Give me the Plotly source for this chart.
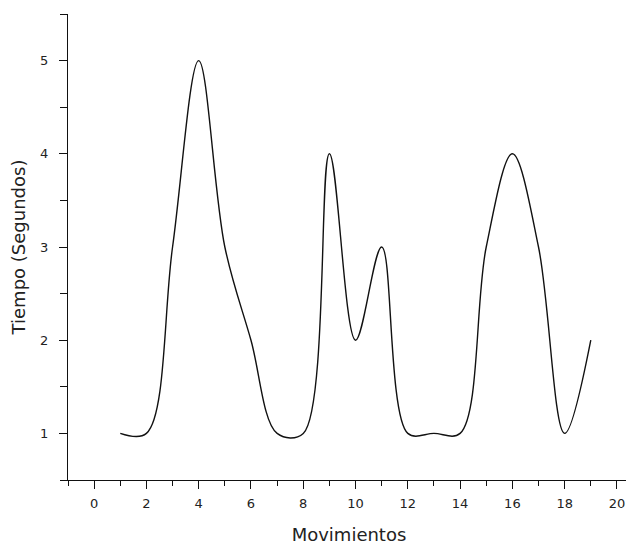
import plotly.graph_objects as go

movimientos = list(range(1, 20))
tiempo = [1, 1, 3, 5, 3, 2, 1, 1, 4, 2, 3, 1, 1, 1, 3, 4, 3, 1, 2]

x_tickvals = list(range(0, 21, 2))
y_tickvals = [1, 2, 3, 4, 5]

fig = go.Figure()
fig.add_trace(go.Scatter(
    x=movimientos, y=tiempo, mode="lines",
    line=dict(color="#111111", width=1.4, shape="spline", smoothing=1.0),
    showlegend=False, hoverinfo="skip"))

font_family = "DejaVu Sans, Liberation Sans, Arial, sans-serif"
fig.update_layout(
    width=634, height=546,
    margin=dict(l=60, r=12, t=6, b=74, autoexpand=False),
    paper_bgcolor="white", plot_bgcolor="white",
    font=dict(family=font_family, color="#000000"),
)
fig.update_xaxes(
    range=[-1, 20.5], tickmode="array", tickvals=x_tickvals,
    ticks="outside", ticklen=8, tickwidth=1.3, tickcolor="#111",
    showline=True, linecolor="#111", linewidth=1.3,
    showgrid=False, zeroline=False, automargin=False,
    minor=dict(tickmode="linear", tick0=0, dtick=1, ticks="outside", ticklen=5,
               tickwidth=1.3, tickcolor="#111", showgrid=False),
    tickfont=dict(size=13, color="#222222"), ticklabelstandoff=3,
    title=dict(text="Movimientos", font=dict(size=18, color="#222222"), standoff=18),
)
fig.update_yaxes(
    range=[0.5, 5.5], tickmode="array", tickvals=y_tickvals,
    ticks="outside", ticklen=8, tickwidth=1.3, tickcolor="#111",
    showline=True, linecolor="#111", linewidth=1.3,
    showgrid=False, zeroline=False, automargin=False,
    minor=dict(tickmode="linear", tick0=0.5, dtick=0.5, ticks="outside", ticklen=7,
               tickwidth=1.3, tickcolor="#111", showgrid=False),
    tickfont=dict(size=13, color="#222222"), ticklabelstandoff=8,
    title=dict(text="Tiempo (Segundos)", font=dict(size=18, color="#222222"), standoff=10),
)

fig.write_html("out.html")
